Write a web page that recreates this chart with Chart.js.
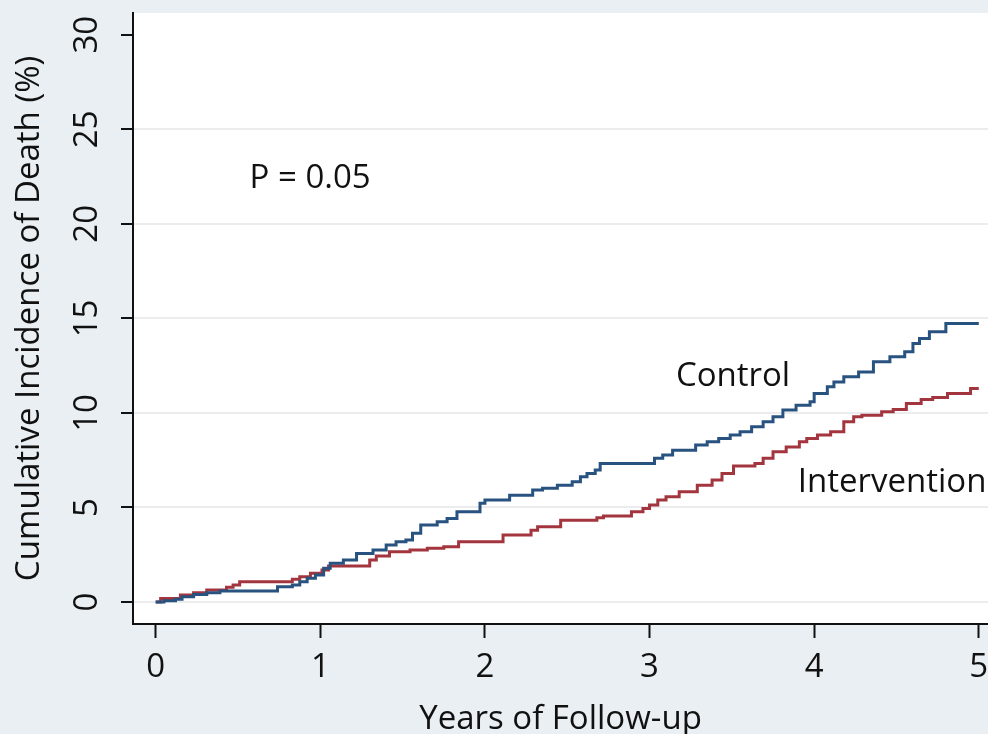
<!DOCTYPE html>
<html>
<head>
<meta charset="utf-8">
<script src="https://cdn.jsdelivr.net/npm/chart.js@4.4.1/dist/chart.umd.min.js"></script>
<style>
  html,body{margin:0;padding:0;background:#e9eff2;}
  #wrap{width:988px;height:734px;position:relative;}
</style>
</head>
<body>
<div id="wrap"><canvas id="grafica"></canvas></div>
<script>
// tiempos (años) y % acumulado
const controlYears=[0,0.05,0.12,0.16,0.23,0.31,0.39,0.74,0.83,0.875,0.92,0.97,1.02,1.06,1.14,1.22,1.32,1.40,1.46,1.52,1.56,1.61,1.71,1.77,1.83,1.97,2.0,2.15,2.29,2.35,2.44,2.53,2.58,2.62,2.67,2.70,3.03,3.08,3.14,3.28,3.35,3.42,3.49,3.55,3.62,3.69,3.75,3.81,3.89,3.975,4.0,4.08,4.12,4.18,4.27,4.36,4.46,4.55,4.60,4.64,4.70,4.80,5.0];
const controlPct=[0,0.07,0.14,0.28,0.4,0.49,0.58,0.81,0.9,1.07,1.25,1.43,1.78,2.05,2.22,2.57,2.75,3.01,3.19,3.28,3.63,4.07,4.24,4.42,4.77,5.22,5.39,5.65,5.92,6.01,6.18,6.36,6.62,6.8,6.98,7.33,7.6,7.77,8.03,8.3,8.47,8.65,8.83,9.0,9.27,9.53,9.8,10.15,10.41,10.59,11.03,11.38,11.64,11.91,12.17,12.7,12.97,13.23,13.67,13.94,14.29,14.73,14.73];
const interventionYears=[0,0.03,0.15,0.23,0.31,0.43,0.47,0.51,0.83,0.875,0.94,1.01,1.05,1.30,1.34,1.42,1.545,1.65,1.75,1.84,2.11,2.28,2.32,2.46,2.68,2.72,2.89,2.96,3.0,3.05,3.1,3.18,3.29,3.38,3.44,3.51,3.64,3.69,3.75,3.83,3.91,3.955,4.02,4.10,4.18,4.24,4.29,4.41,4.48,4.56,4.65,4.72,4.81,4.95,5.0];
const interventionPct=[0,0.19,0.37,0.49,0.63,0.78,0.9,1.07,1.2,1.34,1.52,1.69,1.9,2.22,2.43,2.66,2.75,2.84,2.92,3.19,3.54,3.8,3.98,4.33,4.46,4.55,4.77,4.95,5.13,5.39,5.57,5.83,6.18,6.45,6.8,7.19,7.33,7.6,7.94,8.2,8.47,8.65,8.83,9.0,9.53,9.8,9.88,10.06,10.18,10.5,10.71,10.82,11.03,11.29,11.29];
const xTicks=[0,1,2,3,4,5];
const yTicks=[0,5,10,15,20,25,30];
const notes=[
  {text:"P = 0.05",x:0.57,y:21.9},
  {text:"Control",x:3.16,y:11.45},
  {text:"Intervention",x:3.9,y:5.8}
];

const FONT="'Open Sans', sans-serif";

const fondo={
  id:"fondo",
  beforeDraw(chart){
    const {ctx,chartArea:a}=chart;
    ctx.save();
    ctx.fillStyle="#e9eff2";
    ctx.fillRect(0,0,chart.width,chart.height);
    ctx.fillStyle="#ffffff";
    ctx.fillRect(a.left,a.top,a.right-a.left,a.bottom-a.top);
    ctx.restore();
  }
};

const textos={
  id:"textos",
  afterDatasetsDraw(chart){
    const {ctx,scales}=chart;
    ctx.save();
    ctx.fillStyle="#111";
    ctx.font="33px "+FONT;
    ctx.textBaseline="alphabetic";
    notes.forEach(n=>{
      ctx.fillText(n.text,scales.x.getPixelForValue(n.x),scales.y.getPixelForValue(n.y));
    });
    ctx.restore();
  }
};

const toXY=(xs,ys)=>xs.map((t,i)=>({x:t,y:ys[i]}));

new Chart(document.getElementById("grafica"),{
  type:"line",
  data:{
    datasets:[
      {
        label:"Control",
        data:toXY(controlYears,controlPct),
        borderColor:"#28527f",
        borderWidth:3,
        pointRadius:0,
        stepped:true
      },
      {
        label:"Intervention",
        data:toXY(interventionYears,interventionPct),
        borderColor:"#a3353f",
        borderWidth:3,
        pointRadius:0,
        stepped:true
      }
    ]
  },
  options:{
    responsive:true,
    maintainAspectRatio:false,
    animation:false,
    layout:{padding:{top:13,left:0,right:0,bottom:0}},
    plugins:{legend:{display:false},tooltip:{enabled:false}},
    scales:{
      x:{
        type:"linear",
        min:-0.138,
        max:5.056,
        afterBuildTicks(s){s.ticks=xTicks.map(v=>({value:v}));},
        afterFit(s){s.height=110;s.paddingLeft=0;s.paddingRight=0;},
        border:{display:true,color:"#111",width:2},
        grid:{drawOnChartArea:false,drawTicks:true,tickLength:14,tickColor:"#111",tickWidth:2},
        ticks:{
          padding:10,
          color:"#111",
          font:{family:FONT,size:33},
          callback:v=>String(v)
        },
        title:{
          display:true,
          text:"Years of Follow-up",
          color:"#111",
          font:{family:FONT,size:33,lineHeight:0.85},
          padding:0
        }
      },
      y:{
        type:"linear",
        min:-1.163,
        max:31.15,
        afterBuildTicks(s){s.ticks=yTicks.map(v=>({value:v}));},
        afterFit(s){s.width=133;s.paddingTop=0;s.paddingBottom=0;},
        border:{display:true,color:"#111",width:2},
        grid:{
          drawOnChartArea:true,
          color:ctx=>ctx.tick&&ctx.tick.value===30?"rgba(0,0,0,0)":"#eaeced",
          lineWidth:2,
          tickLength:12,
          tickColor:"#111",
          tickWidth:2
        },
        ticks:{
          minRotation:90,
          maxRotation:90,
          crossAlign:"center",
          padding:15,
          color:"#111",
          font:{family:FONT,size:33},
          callback:v=>String(v)
        },
        title:{
          display:true,
          text:"Cumulative Incidence of Death (%)",
          color:"#111",
          font:{family:FONT,size:33},
          padding:{top:10,bottom:0}
        }
      }
    }
  },
  plugins:[fondo,textos]
});
</script>
</body>
</html>
